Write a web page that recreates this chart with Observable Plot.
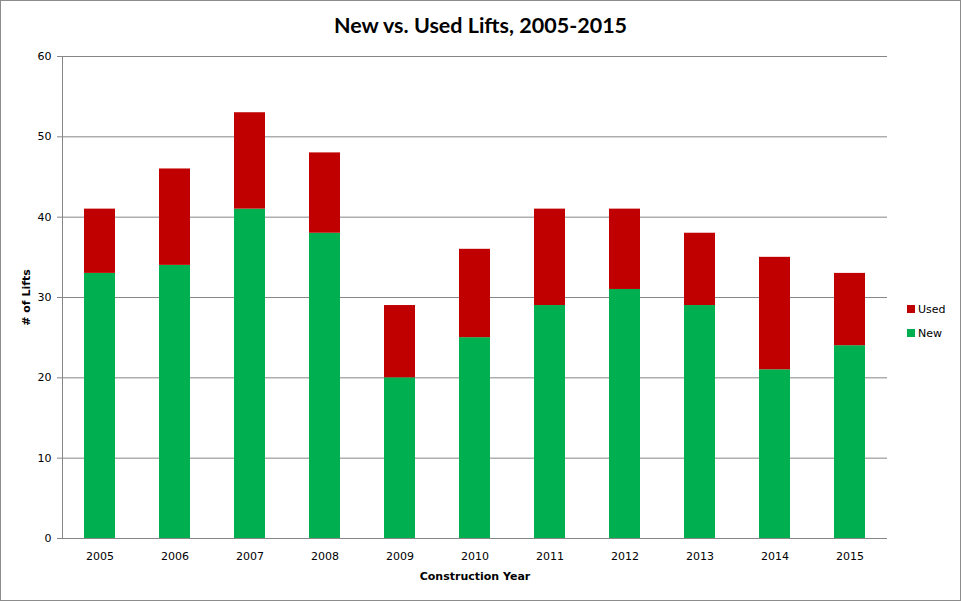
<!DOCTYPE html>
<html>
<head>
<meta charset="utf-8">
<script src="https://cdn.jsdelivr.net/npm/d3@7"></script>
<script src="https://cdn.jsdelivr.net/npm/@observablehq/plot@0.6"></script>
<style>
  html, body { margin: 0; padding: 0; background: #fff; }
  #frame { position: relative; width: 961px; height: 601px; box-sizing: border-box; border: 1px solid #8c8c8c; overflow: hidden; }
  #title { height: 39px; line-height: 48px; text-align: center; font-family: Lato, "Open Sans", sans-serif; font-weight: bold; font-size: 21.5px; color: #000; }
  #legend { position: absolute; left: 906px; top: 296px; font-family: "DejaVu Sans", Verdana, sans-serif; font-size: 11px; color: #000; }
  .item { display: flex; align-items: center; height: 24px; }
  .sw { width: 8px; height: 8px; margin-right: 3px; }
  svg { display: block; }
</style>
</head>
<body>
<div id="frame">
  <div id="title">New vs. Used Lifts, 2005-2015</div>
  <div id="chart"></div>
  <div id="legend"></div>
</div>
<script>
const years = ["2005","2006","2007","2008","2009","2010","2011","2012","2013","2014","2015"];
const newLifts = [33, 34, 41, 38, 20, 25, 29, 31, 29, 21, 24];
const usedLifts = [8, 12, 12, 10, 9, 11, 12, 10, 9, 14, 9];
const series = ["New", "Used"];
const colors = ["#00B050", "#C00000"];
const yTicks = [0, 10, 20, 30, 40, 50, 60];

const rows = [];
years.forEach((y, i) => {
  rows.push({year: y, type: "New", value: newLifts[i]});
  rows.push({year: y, type: "Used", value: usedLifts[i]});
});

const chart = Plot.plot({
  width: 959,
  height: 560,
  marginTop: 16,
  marginBottom: 62,
  marginLeft: 61,
  marginRight: 73,
  style: {fontFamily: "'DejaVu Sans', Verdana, sans-serif", fontSize: "11px", color: "#000", background: "#fff"},
  x: {domain: years, paddingInner: 0.59, paddingOuter: 0.295, label: null},
  y: {domain: [0, 60], label: null},
  color: {domain: series, range: colors},
  marks: [
    Plot.gridY(yTicks, {stroke: "#868686", strokeOpacity: 1}),
    Plot.barY(rows, {x: "year", y: "value", fill: "type", order: series}),
    Plot.ruleY([0], {stroke: "#868686"}),
    Plot.frame({anchor: "left", stroke: "#868686"}),
    Plot.axisY(yTicks, {tickSize: 5, tickPadding: 6, stroke: "#868686", label: "# of Lifts", labelAnchor: "center", labelOffset: 40}),
    Plot.axisX({tickSize: 0, tickPadding: 14, label: "Construction Year", labelAnchor: "center", labelOffset: 41})
  ]
});
document.getElementById("chart").appendChild(chart);

// bold axis titles, no arrows
chart.querySelectorAll("g[aria-label='y-axis label'] text, g[aria-label='x-axis label'] text").forEach(t => {
  t.style.fontWeight = "bold";
  t.textContent = t.textContent.replace(/[\u2190-\u2193]/g, "").trim();
});

const legend = document.getElementById("legend");
["Used", "New"].forEach(s => {
  const idx = series.indexOf(s);
  const item = document.createElement("div");
  item.className = "item";
  item.innerHTML = `<div class="sw" style="background:${colors[idx]}"></div><span>${s}</span>`;
  legend.appendChild(item);
});
</script>
</body>
</html>
